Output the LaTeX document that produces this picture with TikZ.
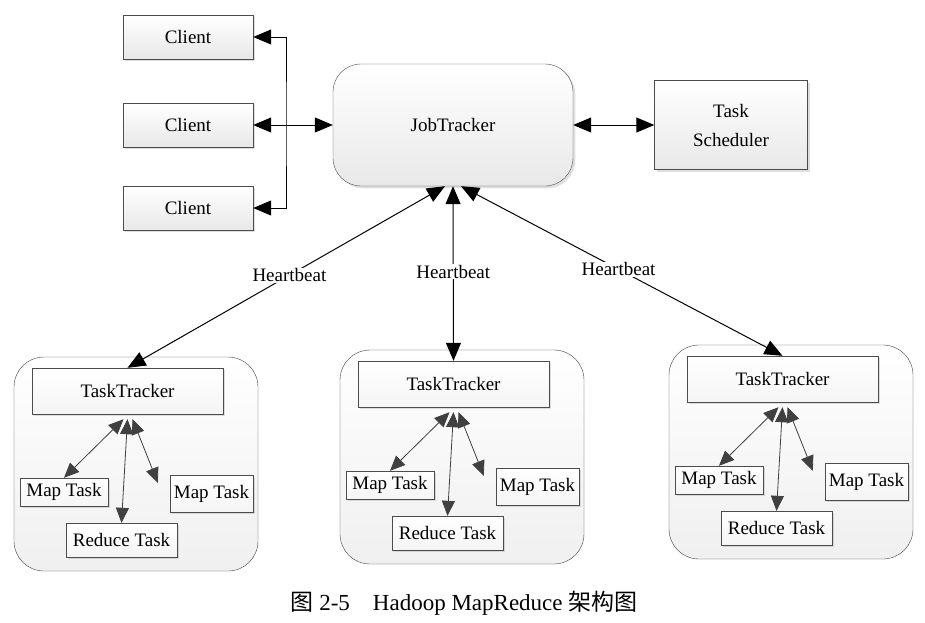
\documentclass[tikz,border=0pt]{standalone}
\usepackage{fontspec}
\setmainfont{Liberation Serif}
\newfontfamily\cjk{Noto Sans CJK SC}
\usetikzlibrary{arrows.meta,shadows}
\begin{document}
\begin{tikzpicture}[
    x = 1pt, y = -1pt,
    every node/.style = {font=\fontsize{19}{29}\selectfont},
    box/.style = {draw=black!70, top color=white, bottom color=gray!18,
      drop shadow={opacity=0.25}, inner sep=1pt},
    jobbox/.style = {box, rounded corners=28pt, minimum width=240pt, minimum height=122pt},
    cluster/.style = {draw=black!75, rounded corners=30pt, top color=white,
      bottom color=gray!12, minimum width=244pt, minimum height=214pt},
    taskbox/.style = {draw=black!70, top color=white, bottom color=gray!8,
      drop shadow={opacity=0.25}, inner sep=1pt},
    link/.style = {{Triangle[length=18pt,width=15pt]}-{Triangle[length=18pt,width=15pt]}, line width=1pt},
    sublink/.style = {{Triangle[length=15pt,width=13pt]}-{Triangle[length=15pt,width=13pt]},
      draw=black!75, line width=0.8pt},
    beat/.style = {fill=white, inner sep=1pt, pos=0.49},
  ]
  \useasboundingbox (0,0) rectangle (925,622);

  % clients and job tracker
  \node[box, minimum width=130pt, minimum height=44pt] (c1) at (188,37) {Client};
  \node[box, minimum width=130pt, minimum height=44pt] (c2) at (188,125) {Client};
  \node[box, minimum width=130pt, minimum height=44pt] (c3) at (188,208) {Client};
  \node[jobbox] (jt) at (453,125) {JobTracker};
  \node[box, align=center, minimum width=153pt, minimum height=89pt] (ts) at (731,125) {Task\\Scheduler};

  \coordinate (bus) at (286,125);
  \draw[link] (c1.east) -| (bus) |- (c3.east);
  \draw[link] (c2.east) -- (jt.west);
  \draw[link] (jt.east) -- (ts.west);

  % task trackers
  \foreach \n/\dx/\dy in {1/0/0, 2/326/-7, 3/655/-12} {
    \begin{scope}[shift={(\dx,\dy)}]
      \node[cluster] (tk\n) at (136,464) {};
      \node[taskbox, minimum width=191pt, minimum height=46pt] (tt\n) at (127.5,391) {TaskTracker};
      \node[taskbox, minimum width=88pt, minimum height=28pt] (ml\n) at (64,492) {Map Task};
      \node[taskbox, minimum width=83pt, minimum height=37pt] (mr\n) at (211.5,493.5) {Map Task};
      \node[taskbox, minimum width=111pt, minimum height=34pt] (rd\n) at (121.5,540) {Reduce Task};
    \end{scope}
    \draw[sublink] ([xshift=-4pt,yshift=-5pt]tt\n.south) -- (ml\n.north);
    \draw[sublink] ([yshift=-5pt]tt\n.south) -- (rd\n.north);
    \draw[sublink] ([xshift=5pt,yshift=-5pt]tt\n.south) -- ([xshift=-12pt,yshift=-8pt]mr\n.north west);
  }

  \draw[link] ([xshift=-8pt]jt.south) -- node[beat] {Heartbeat} (tt1.north);
  \draw[link] (jt.south) -- node[beat] {Heartbeat} (tt2.north);
  \draw[link] ([xshift=8pt]jt.south) -- node[beat] {Heartbeat} (tt3.north);

  \node[font=\fontsize{23}{27}\selectfont] (cap) at (464,603)
    {{\cjk 图} 2-5\hspace{1em}Hadoop MapReduce {\cjk 架构图}};
\end{tikzpicture}
\end{document}
